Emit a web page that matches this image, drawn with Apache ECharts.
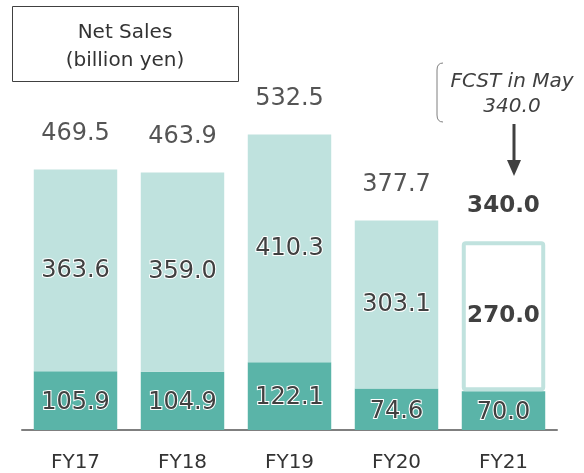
<!DOCTYPE html>
<html><head><meta charset="utf-8">
<script src="https://cdn.jsdelivr.net/npm/echarts@6/dist/echarts.min.js"></script>
<style>html,body{margin:0;padding:0;background:#fff}#c{width:584px;height:473px}</style>
</head><body><div id="c"></div>
<script>
var categories = ['FY17', 'FY18', 'FY19', 'FY20', 'FY21'];
var lowerValues = [105.9, 104.9, 122.1, 74.6, 70.0];
var upperValues = [363.6, 359.0, 410.3, 303.1, 270.0];
var totals = [469.5, 463.9, 532.5, 377.7, 340.0];
var forecastIndex = 4;

var FONT = 'DejaVu Sans';
var chart = echarts.init(document.getElementById('c'));

var upperData = upperValues.map(function (v, i) {
  if (i === forecastIndex) {
    return {
      value: v,
      itemStyle: { color: '#ffffff', borderColor: '#c0e2de', borderWidth: 4, borderRadius: 2 },
      label: { fontWeight: 'bold', textBorderWidth: 0, color: '#404040', fontSize: 23 }
    };
  }
  return v;
});
var totalData = totals.map(function (v, i) {
  if (i === forecastIndex) return { value: v, label: { fontWeight: 'bold', color: '#404040', fontSize: 23 } };
  return v;
});

chart.setOption({
  animation: false,
  grid: { left: 22, right: 27, top: 97, bottom: 41 },
  xAxis: {
    type: 'category', data: categories,
    axisLine: { lineStyle: { color: '#7f7f7f', width: 2 } },
    axisTick: { show: false },
    axisLabel: { color: '#333', fontSize: 20, fontFamily: FONT, margin: 23 }
  },
  yAxis: { type: 'value', min: 0, max: 600, show: false, splitLine: { show: false } },
  series: [
    {
      type: 'bar', stack: 'sales', data: lowerValues, barWidth: '78%',
      itemStyle: { color: '#5ab4a8' },
      label: {
        show: true, position: 'inside', offset: [0, 2], fontSize: 24, fontFamily: FONT, color: '#404040',
        textBorderColor: '#fff', textBorderWidth: 2,
        formatter: function (p) { return Number(p.value).toFixed(1); }
      }
    },
    {
      type: 'bar', stack: 'sales', data: upperData, barWidth: '78%',
      itemStyle: { color: '#bfe2de' },
      label: {
        show: true, position: 'inside', fontSize: 24, fontFamily: FONT, color: '#404040',
        textBorderColor: '#fff', textBorderWidth: 2,
        formatter: function (p) { return Number(p.value).toFixed(1); }
      }
    },
    {
      type: 'bar', data: totalData, barWidth: '78%', barGap: '-100%', silent: true, z: 0,
      itemStyle: { color: 'rgba(0,0,0,0)' },
      label: {
        show: true, position: 'top', distance: 24, fontSize: 24, fontFamily: FONT, color: '#555555',
        formatter: function (p) { return Number(p.value).toFixed(1); }
      }
    }
  ],
  graphic: [
    { type: 'rect', shape: { x: 12.5, y: 6.5, width: 226, height: 75 },
      style: { fill: '#fff', stroke: '#404040', lineWidth: 1 } },
    { type: 'text', x: 125, y: 33, style: { text: 'Net Sales', fontSize: 20, fontFamily: FONT, fill: '#333', align: 'center', verticalAlign: 'middle' } },
    { type: 'text', x: 125, y: 61, style: { text: '(billion yen)', fontSize: 20, fontFamily: FONT, fill: '#333', align: 'center', verticalAlign: 'middle' } },
    { type: 'bezierCurve', shape: { x1: 443, y1: 63, cpx1: 437, cpy1: 63, x2: 437, y2: 70 },
      style: { fill: null, stroke: '#7f7f7f', lineWidth: 1 } },
    { type: 'line', shape: { x1: 437, y1: 70, x2: 437, y2: 115 }, style: { stroke: '#7f7f7f', lineWidth: 1 } },
    { type: 'bezierCurve', shape: { x1: 437, y1: 115, cpx1: 437, cpy1: 122, x2: 443, y2: 122 },
      style: { fill: null, stroke: '#7f7f7f', lineWidth: 1 } },
    { type: 'text', x: 512, y: 82, style: { text: 'FCST in May', fontSize: 20, fontStyle: 'italic', fontFamily: FONT, fill: '#404040', align: 'center', verticalAlign: 'middle' } },
    { type: 'text', x: 512, y: 107, style: { text: '340.0', fontSize: 20, fontStyle: 'italic', fontFamily: FONT, fill: '#404040', align: 'center', verticalAlign: 'middle' } },
    { type: 'line', shape: { x1: 514, y1: 124, x2: 514, y2: 162 }, style: { stroke: '#404040', lineWidth: 3 } },
    { type: 'polygon', shape: { points: [[507, 160], [521, 160], [514, 176]] }, style: { fill: '#404040' } }
  ]
});
</script>
</body></html>
